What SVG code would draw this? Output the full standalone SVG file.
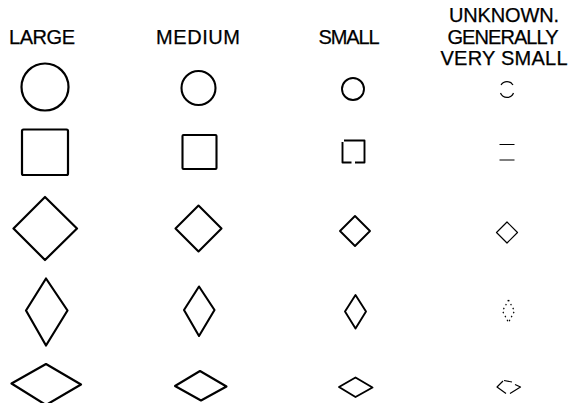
<svg xmlns="http://www.w3.org/2000/svg" width="569" height="403" viewBox="0 0 569 403">
<style>
text{font-family:"Liberation Sans",Arial,sans-serif;font-size:20px;fill:#000;stroke:#000;stroke-width:0.25;text-anchor:middle}
.s{fill:none;stroke:#000;stroke-linejoin:round}
.L{stroke-width:2.2}
.M{stroke-width:2.1}
.S{stroke-width:1.9}
.U{stroke-width:1.2}
</style>
<rect width="569" height="403" fill="#fff"/>
<g id="labels">
<text x="42" y="44" textLength="66">LARGE</text>
<text x="198" y="44" textLength="84">MEDIUM</text>
<text x="349" y="44" textLength="61">SMALL</text>
<text x="504" y="22" textLength="110">UNKNOWN.</text>
<text x="503" y="44" textLength="111">GENERALLY</text>
<text x="504" y="65" textLength="127">VERY SMALL</text>
</g>
<g id="connectors"/>
<g id="circle-large"><circle class="s L" cx="45" cy="87" r="23.5"/></g>
<g id="circle-medium"><circle class="s M" cx="198.5" cy="88" r="17"/></g>
<g id="circle-small"><circle class="s S" cx="353" cy="89" r="11"/></g>
<g id="circle-unknown"><path class="s U" d="M501,85 A7,7 0 0 1 513,85 M500.5,93 A7,7 0 0 0 513.5,93"/></g>
<g id="square-large"><rect class="s L" x="22" y="129.5" width="46" height="45.5" rx="1.5"/></g>
<g id="square-medium"><rect class="s M" x="182.5" y="135" width="34" height="34" rx="1"/></g>
<g id="square-small"><path class="s S" d="M344,140.5 H364.5 V162.5 H355 M351.5,162.5 H342.5 V142"/></g>
<g id="square-unknown"><path class="s U" d="M499.5,144.5 H514.5 M499.5,160 H514.5"/></g>
<g id="diamond-large"><path class="s L" d="M45,197 L77,228.5 L45,260 L13.5,228.5 Z"/></g>
<g id="diamond-medium"><path class="s M" d="M198.5,205.5 L221.5,228.5 L198.5,251.5 L175.5,228.5 Z"/></g>
<g id="diamond-small"><path class="s S" d="M355,216 L370,231 L355,246 L340,231 Z"/></g>
<g id="diamond-unknown"><path class="s U" d="M507,222 L517.5,232.5 L507,243 L496.5,232.5 Z"/></g>
<g id="tall-large"><path class="s L" d="M46,278.5 L67.5,310.5 L46,345.5 L26,310.5 Z"/></g>
<g id="tall-medium"><path class="s M" d="M199,286.5 L214.5,310 L199,336 L184,310 Z"/></g>
<g id="tall-small"><path class="s S" d="M355.5,295 L366,311.5 L355.5,328.5 L345,311.5 Z"/></g>
<g id="tall-unknown"><path class="s U" stroke-dasharray="1.5,3" d="M508.5,300 L514.5,311 L508.5,322.5 L502.5,311 Z"/></g>
<g id="wide-large"><path class="s L" d="M46,364 L81,384.5 L46,405 L11.5,383.5 Z"/></g>
<g id="wide-medium"><path class="s M" d="M200,371 L226.5,386.5 L201,400.5 L175,386 Z"/></g>
<g id="wide-small"><path class="s S" d="M355.5,377.5 L372.5,387.5 L355.5,397 L339,387 Z"/></g>
<g id="wide-unknown"><path class="s U" d="M504,380.5 L512,382 M515,384.5 L520.5,387 L510,393.5 M506,393.5 L497,387 L503,381"/></g>
</svg>
